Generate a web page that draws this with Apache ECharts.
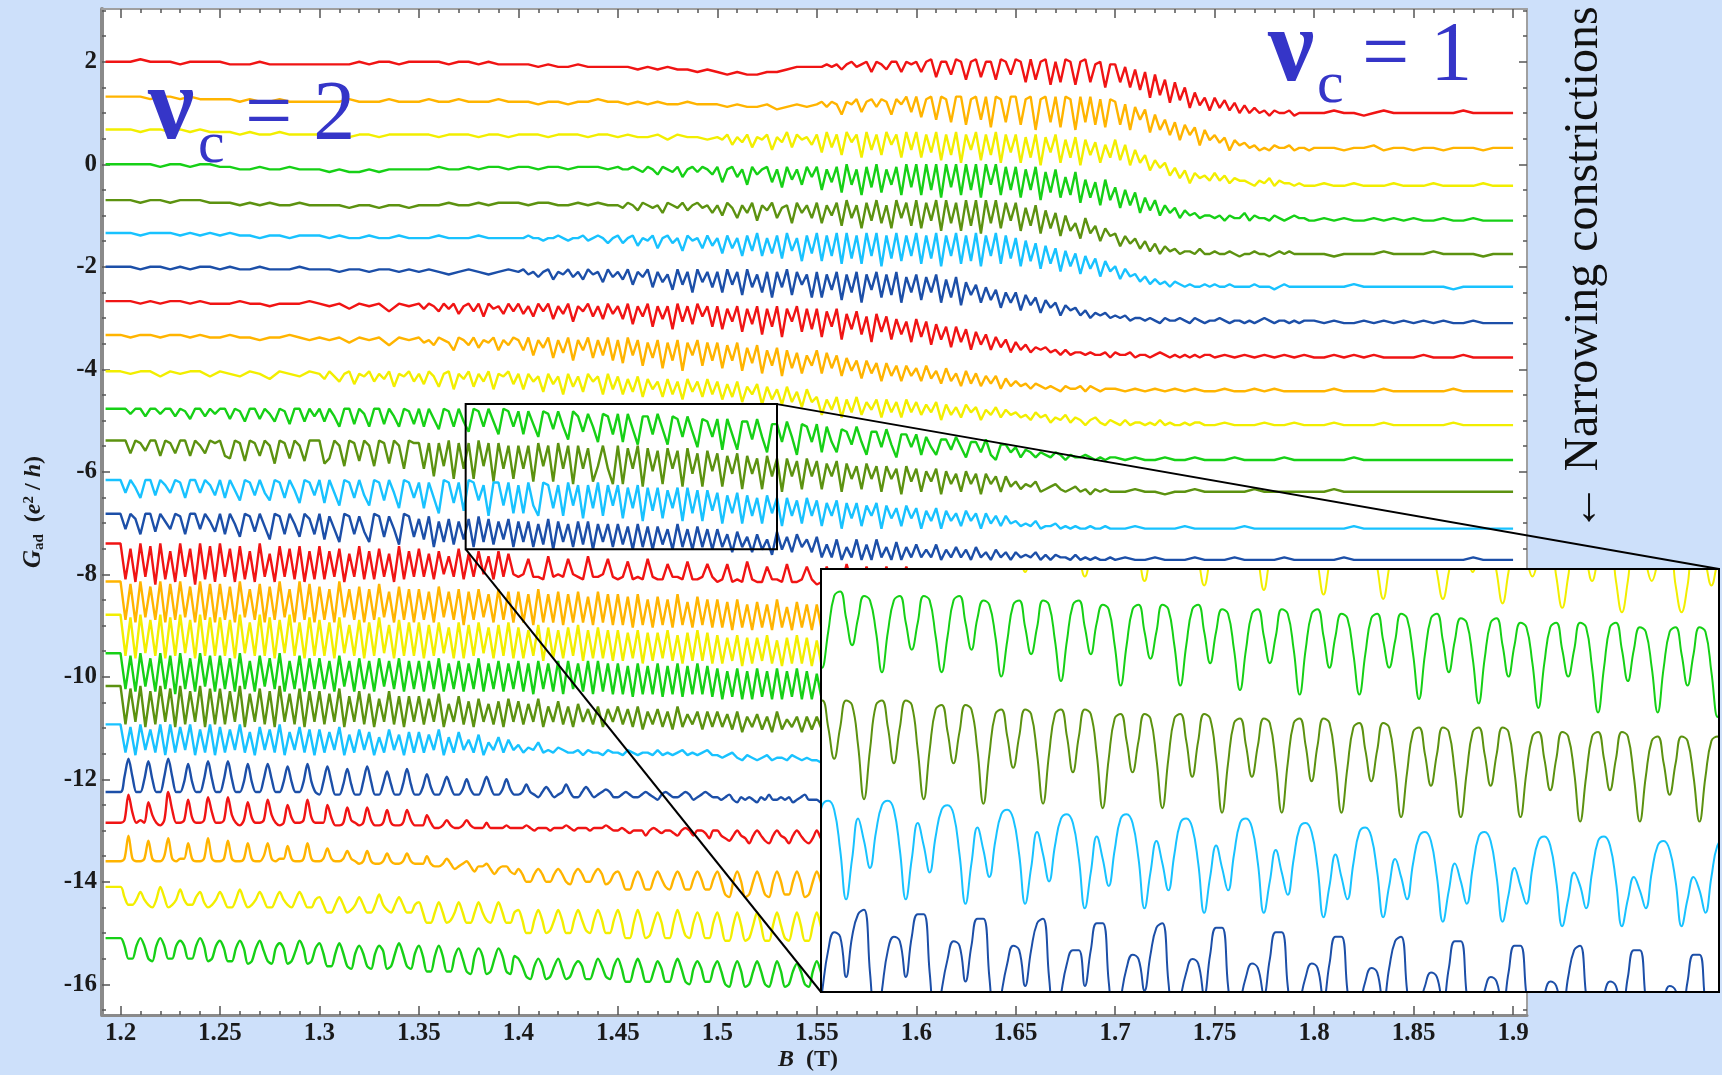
<!DOCTYPE html>
<html>
<head>
<meta charset="utf-8">
<script src="https://cdn.jsdelivr.net/npm/echarts@6/dist/echarts.min.js"></script>
<style>
  html, body { margin: 0; padding: 0; background: #cde0fa; }
  #chart { width: 1722px; height: 1075px; }
</style>
</head>
<body>
<div id="chart"></div>
<script>
// colours of the 25 traces, top to bottom
const palette = { red: '#f01414', orange: '#ffb400', yellow: '#f2ee00', green: '#16d016', olive: '#5c9210', cyan: '#18c2ff', blue: '#1c4fa8' };
const traceColors = [
  'red', 'orange', 'yellow', 'green', 'olive', 'cyan', 'blue',
  'red', 'orange', 'yellow', 'green', 'olive', 'cyan', 'blue',
  'red', 'orange', 'yellow', 'green', 'olive', 'cyan', 'blue',
  'red', 'orange', 'yellow', 'green'
];
// level of each trace at B = 1.2 T (e^2/h, offset already applied)
const traceOffsets = [
  2.00, 1.32, 0.68, 0.00, -0.70, -1.34, -2.00,
  -2.67, -3.33, -4.04, -4.77, -5.39, -6.16, -6.82,
  -7.40, -8.14, -8.79, -9.54, -10.18, -10.93, -11.60,
  -12.30, -13.10, -14.10, -15.10
];
// readings per 0.05 T block starting at 1.2 T; char 'U' = offset, each step 0.05
const traceBlocks = [
  ["UUVUUUTUUU","UTTTUTTTTT","TTTTUTUUTU","UUUTUUTUTT","TTSTSSTSSS","SSRSRSRRQR","QPQPPQQRSS","SSTSTRTUSTUQUTRUUQUT","UQUVOUUPVUNUVOUUNVUP","VUMVNUVLUMVULUVMTUKT","TMSKRJQGPHNEMFKCIDGB","GCFBEADACAB9BAAB9AAA","AABAA9ABAA","AAAAABAAAA"],
  ["UUUTUUTUTT","TTSTSSTSSS","SSSTSSSTSS","STSSTSSSTS","SSRSSRSSTS","SRSRSRRSRR","RQRQQRPQRQ","RSQSRNSRTOSTQTSNTRUO","UMTULUTKUUJTULUIUTKU","UJTUHTUKUIUTHUKUJTIT","SJRHQLPGNHLFKDJFIBHD","FCE9DBCAB9A9BAAB9AA9","AAA9AAB9AA","9AA9AAA9AA"],
  ["UUTUUTUTUT","TTSTSSTSSS","SSSRSSRSSS","SSRSSSRSSR","SSSRSSSRSS","RSRRSQSRRQ","RQSORPSNRQSMRPTNSQRO","SLTNSKTPSJTMSKTOSJTM","TJSLTISKTHSMTISKTHSL","SHRJSGRLSHQJRGQKPHOJ","QIOGMHKEIFHCFBE9DBCA","DAC9BAA98A9B8A998988","8988988898","8898888988"],
  ["UUUUTUUTUU","TTSSTSSTSS","SRSRRSRSSS","SSTSSTSTTS","TTSTTSTTTS","TSSTSRTSQTSRTPSTRTSQ","TNSTPSMTQSTNSLTOSMTP","TKSNTJUMSITLUJSMTIUL","UIUKUHULUIUKUHUMUITK","THSKTGRJSHPIRFOHNEOG","LDKEJBHCGAEBD9CAB9AA","9A8A99B8A998A989A998","8989889898","9889889888"],
  ["UUTUUTUUUT","TTSTSTSSTS","SSSRSSRSSR","SSSTSSTSTT","TSTTSSTSTS","SRTSQTSRSPTSRTQSTRSP","SOTRNSPTMSQTNRSLTPSN","TLSOTKUNSJTMULSJUNTK","UJTMUIULTIUKUHULUJTM","TIRKSHQJPGOILFNHKEJG","HCGDFBEAD9CAB9AA9B99","A99A9899A9989A9A9999","9989999A99","99A9999899"],
  ["UUTUUUTUTU","TUTTSTTSTT","TSTSSTSSTS","SSTSSSTSSS","SSTSSRSSTSRSSTRSTSQS","TQSTPSRTOSTQSNTRSOTP","SMTOSLTNULSMTKUNSJTM","UJTLUIUKTIULUHTKUJTL","UITKUHTLUITJUHTLUITK","SHRJQGPIOFNHMELGKDJF","HCGDEBDACAB9BA9A99A9","A99A9999A99989A99999","9999A99999","9999899999"],
  ["UUTUUTUTUU","TUTTUTTTUT","TTSTTSTTST","STSRSTSRST","STRSQSTPSRTQSPTRSOTQ","SPTNSQTMSORLTNSKTOSM","SKTNSJTMRKSISMTJSNRI","SIRLSHRKSGRLSIRJSGQK","RHQKRGPIQFOJNGMHLEKG","KDJFICHEGBFDEBDACBCA","BAB9AA9A98A99A98A989","9A98998989A989989899","9898898989","8989889888"],
  ["UUTUTUUTUT","TTUTTSTTTU","TSTRTSTQTS","TRTSQTRTPSTQTOTRSPTQ","TPSOTQTNSPTMSQTOSNTP","SNTLSOTKSNSJTMSLTOSK","SJRMSIRLSHRKSGRMSIRJ","RGQKRFPJQHOEPIOFNHME","NGMDLFKCKEJBIDHBGCFA","EBDACBCAB9B9AA9A99A8","A99A89989A9898989899","8989898989","8898989888","8988898888"],
  ["UTUUTUUTUT","TUTTSTTUTS","TSTRTSTQTS","TRSQTSROTSQTPSRTOSQT","SOTMSPTLSNTKSOTLSMTK","SJTMSIRLSHRKSGRMSIRK","RHQKRGPJQFOIPEOHNFMI","OFNHMELGKDKFJCJEICIE","HCIDGBHCFAGBFAEBE9DA","CAB9BA9A98A99A8A9899","9898989898","8988989888","8898888988","8888988888"],
  ["UTUUSUTUUS","UTSUTRUTSU","TRUSQTUPTSUQTRUOTSUQ","TPUSOTUNTRUOTQUNTSUP","TNTQSMTPSLTOSMTQSLTN","SLRMSKRNQKRLQJRMQKRL","QJPKQIOLPHOJNHOIMGNI","KDJFKCJEKDIFJCJEICJE","IDHEIBHDGCHEGBFDGCFD","ECDBECDACBDACB9BCA9B","A9B9AA9A9B9A99A9AA99","9A999A99A9","99A9999A99","9999A99999"],
  ["UUSUURUUSUURUTQUURUS","UUQUTPUUQUSPUTOUUPUR","UPURNUUOUSNUUOURNUTO","UNUQMUTNUPLUTNUPKUTN","TKTOJTSMTNITRLSNHSRK","SHSMGRRKSMGRQJRLFQPJ","QEQKEPPIQJDOOHPJCONH","ODNHDMLGNHCLLFMGBKKF","KCJFCIIEJFBHHDICAGGD","FBEDBDCBDCACBBCBABAB","BABAABAABA","AABAAAABAA","AAAABAAAAA","AAAAAAAAAA"],
  ["UUPUTQUUOUTPUUOUSPUT","UONUTMUTOUSLUTNUSMUU","ULNUSKUTMUSKUTLUSJUT","TJTGTKUFTJTFUKTETJSF","SJSETKSETJSDSJREKSJD","SDRJSCRIQDRJQCRHPCQI","PCOHPBOHNBOGNANGMBNG","MBLGMALFKBLFKAKFJ9KE","JAIEJ9IDHAIDH9HDGAGC","EBDCEABCDBABCAB9BABA","AABAA9AABA","AAAABAAAAA","AABAAAAAAA","AAAAAAAAAA"],
  ["UPURNUUOUSPUTNUUPUSO","UNUQMUTOUPMUTNUQLUTO","ULUPKUTNUOKUTMUPJUTN","TJTNHUTLTIUTMSGTTKTH","SHTKGTSJSGTKSFSJTGSK","SFRJSERIRFQJRERHQEQI","PDOHPDOGNDOHNCNGMDNG","MCLGMBLFLCKGLBKFJCKF","JBIEJBIEHCIEHBHDGCGD","ECDCEBCCDBCBCBBCBBCB","BBCBBBBCBB","BBBCBBBBBB","BBBBCBBBBB","BBBBBBBBBB"],
  ["UOUSMUUNUROUTMUUOURN","UMUQLUTNUPKUTMUQLUSM","UKTOJUTMTNJUTLTOIUTL","SKTHRJSIRKSHTJSIRKSH","RJRHQISGRJQHRIRGQJQH","QIPGQHPGPIOGQHOGPHOG","OHMFNHLFMGKENGLFMHKF","LDIDKCHDKCICKDHCJCHD","IDGDICGDHDGCHDFCGDFC","FDEDFCECEDDCECDCDCCD","CDCCDCCCDC","CCDCCCCDCC","CCCDCCCCCC","CCCCCCDCCC"],
  ["UGSFUHTEUGRFUHSEUGTF","UHSFTGRFUHQFTHSGTFRG","TGRHSFQHTGRGSHQFTGRH","SHQGRIPHSGQHRIPGRHQI","HIOHHGPHIHOIHGPHHIOH","GHNGHGOHGGMHHGNGGHMH","FGMFGFNGFFLGGFMFFGLG","EFLEFEMFEELFFELEEFLF"],
  ["UFTEUGSFUETFUGSEUFTE","TFSEUGRFTESFUGREUFTE","SFREUGRFSERFTGQESFRE","RFQESGQFRDQFRGPERFQE","QEPDREPEQDPEQEODQEPD","PDOCPDNCODNCPDMCODNC","NCMBNCLBMCLBNCKBMCLB","LBKALBJAKBJALBIAKBJA"],
  ["UETDUFSEUDTEUFSDUETE","TESDUFREUETDSFUERDTE","SERDTFQESDRETFQDSERE","RDQERFPDRDQERFPDQERD","PDOEQCPDODPEQCODPDOC","OCNDOBNCNDOCMBNCOCNB","MBLCMALBLCMBKALBMBLA","KAJBKAJ9JAKBIAJ9KAJA"],
  ["UGTFUHSFUGTEUGSFUHTF","TGSFUGRFTHSGUFRGTFSG","SGRFTHRFSGRFSHRGSFRG","RFRGSFQGRFQGSFQGRFQG","RFQERGQFRERGQFRERFQE","QEPDQEPEQDPEQDPEQEPD","OCNDOCNCODNCOCNDOCNC","MCLBMCLCMBLCMCLBMCLC"],
  ["UFTGUESFUGTEUFSGUETF","TFSGUERGTFSEUGRFTESG","SFRGTEQGSFREPGSFQEQG","QFPGRENGQFOEPGNFOEPG","OFNGPEMGOFMENGLFMELG","MFLEMDKFLEKDMEJFKDKE","KEJDKCIEJDICKDHEICID","IDHCICGDHCGCIDGCHCGD"],
  ["UJTIUKSJUIUJTKUISJUI","TJSKUJRITKSJUIRKTJSI","SJRKTIQJSKRIPJSKQIRJ","RJQKSIPJRKOJQINKPJOK","MJLKNJKJLKJJKIKJJIKJ","JIKJIJJIKIJIJKIJIJKI","IHIJHGIHGHIGHHGIHGHG","GFGHGFGFGHFGFGHGFGFG"],
  ["HNUNHHMTMHHNUNHHLSLHHMTMH","HMTMHHLSLHHMSMHHLRLHHLSLH","GLRLGGKQKGGLRLGGKPKGGKQKG","GJOJGGJNJGGIMIGGJNJGGIMIG","GHKHGFHJHFGHKHFFHJHFGHIHF","FGHGFFGHGFEGHGFFGHGEFGHGF","FEFGEDFEFEDFEGEEFEFDEFGEE","EDEFEDEDEEDEFEDEDEEDEFEDE"],
  ["JKUNJKJRMJIKVOJJKSLJJKTNJ","JKTMJIKRLJJKSMJIJQLJJKSLJ","JJQLIIJPKJIJPKIIJOJIIJOKI","IIMJHHIKIHHIKIHHHJHHHHIHH","HHIHGHHHGHHHIHGHHHGHHHIHG","GHGFGGGEGHGFGGFEGHGEGGFDG","GEDCEGEDBEGECBEGEDBEGECBD","GDBAEGDBADGDBAEGDBADGDBAE"],
  ["KLULKKLSLKKMTLKLLRLKKLTLK","KLSLKKLRLKKMRLKLLQLKKLRLK","KLPLKKLOLKJKOKJJKNKJJKNKJ","JJMJIIJLJHIJKIGIIJHFHIIGF","HFCCFHFCCFHFCBFHFCCFHFBCF","GD99DGD99DGDA9DGD99DGD99D","GC76CGC67CGC76CGC77CGC67C","GC66CGC66CGC66CGC66CGC66C"],
  ["UQNNPSPNMPUQMNPTPNNQSOMNP","SPMMPTPMNPSPMMPSPNMPSPMMP","QNKKNQNKLNQNKKNRNLKNQNKKN","OKGGKOKGHKOKGGKOKHGKOKGGK","LHCCHLHCDHLHCCHLHDCHLHCCH","LGAAGLGABGKGAAGLGBAGKGAAG","KF99FKF9AFKF99FKFA9FKF99F","KF99FKF99FKF99FKF99FKF99F"],
  ["URMMRURMLRURMMRTRMMRURLMR","TQLLQTQKLQTPLKQSQKLPTQKLQ","SOJJOSOJIOROJIORPIJOSOJIO","RNHHNRNHHNQMHGNQNGHMQNHGN","MJFEJMJEFJMIEFJLJEEIMJFEJ","MIDDIMIDDHLIDDIMIDCILIDDI","LHCBHLHBCHLHCBGLHBCHKHCBH","LHBBHLHBBHLHBBHLHBBHLHBBH"]
];

// zoomed window: traces 9..13 read at finer spacing, one string per oscillation period
const insetTraces = [9, 10, 11, 12, 13];
const insetTops = [-4.40, -4.80, -5.50, -6.20, -6.90];   // 'Z' = top, each step 0.03
const insetPeriods = [
  ["ZYWYZZWSWZ","ZYWYZZVRVZ","YXVXYYURUY","YXUXYYUPUY","YXUXYYTOTY","YWTWYYTNTY","XVSVXXSMSX","XVSVXXSLSX","XURUXXRKRX","XUQUXXQJQX","WTQTWWPJPW","WTPTWWPIPW","WSOSWWOHOW","WSNSWWNGNW","VRNRVVMGMV","VRMRVVMFMV"],
  ["YXQHPXYSMS","XWPGPWXRLR","XWOGOWXRLS","WVOFNVWQKQ","WVNENVWQKR","VUMDMUVPJP","VUMDMUVPIP","UTLCLTUOIO","UTLBLTUOHO","TSKBKSTNHN","TSKAKSTNGN","SRJ9JRSMFM","RQI8IQRLFL","RQH7HQRLEL","QPH7HPQKDK","QPG6GPQKDK"],
  ["CNWXRKRXWN","BMWXRJRXWM","BMVWQJQWVM","ALUVPIPVUL","ALUVPHPVUL","9KTUOHOUTK","9KTUOGOUTK","8JSTNGNTSJ","8JSTNFNTSJ","8IRSMFMSRI","7HQRLELRQH","7HQRLELRQH","7HPQKDKQPH","6GPQKDKQPG","6GOPJCJPOG","6GOPJCJPOG"],
  ["PJRXYWNCLU","PJRXYWNCLT","OIQWXVMBKS","NHPVWUMBJR","MGOUVTLAIQ","LFNUVTLAIP","KEMTUSK9HO","JEMTUSK9GN","IDLSTRJ8FM","HCKRSQI8FL","HCKQRPH7EK","GBJQRPH7DJ","FBJPQOG6CI","FAIPQOG6CH","EAIOPNG6CH","E9HOPNF5BG"],
  ["XJ5FOSRIRW","XJ5FORQIRW","WJ5FMQPHPV","VI5ELPOGOU","VI5ELOOGOU","UH5DKNMFNT","UH5DJMLENT","TG5CILKEMS","SG5CILKDLR","RF5BHKJCKQ","RF5BGJICKQ","QE5AFIHBJP","PE59EHGAIO","PE59EHGAIO","OD58DGF9HN","NC57CFE8GM"]
];
const insetStart = 1.3706, insetStep = 0.00104;
const zoomB = [1.3735, 1.530];
const zoomG = [-7.51, -4.68];

// axis ticks
const bTicks = [1.2, 1.25, 1.3, 1.35, 1.4, 1.45, 1.5, 1.55, 1.6, 1.65, 1.7, 1.75, 1.8, 1.85, 1.9];
const gTicks = [-16, -14, -12, -10, -8, -6, -4, -2, 0, 2];
const bMinor = [];
for (let i = 0; i <= 71; i++) bMinor.push(+(1.19 + i * 0.01).toFixed(2));
const gMinor = [];
for (let v = -16.5; v <= 3; v += 0.5) gMinor.push(v);

const LEVELS = '0123456789ABCDEFGHIJKLMNOPQRSTUVWXYZ';

function mainTrace(k) {
  const blocks = traceBlocks[k];
  const pts = [];
  blocks.forEach((s, j) => {
    for (let c = 0; c < s.length; c++) {
      const b = 1.2 + 0.05 * j + 0.05 * c / s.length;
      const g = traceOffsets[k] + (LEVELS.indexOf(s[c]) - 30) * 0.05;
      pts.push([+b.toFixed(5), +g.toFixed(3)]);
    }
  });
  pts.unshift([1.1925, pts[0][1]]);
  pts.push([+(1.2 + 0.05 * blocks.length).toFixed(3), pts[pts.length - 1][1]]);
  return pts;
}

function insetTrace(n) {
  const s = insetPeriods[n].join('');
  return Array.from(s, (ch, i) => [
    +(insetStart + i * insetStep).toFixed(5),
    +(insetTops[n] + (LEVELS.indexOf(ch) - 35) * 0.03).toFixed(3)
  ]);
}

const chart = echarts.init(document.getElementById('chart'));

const serif = "'Liberation Serif', 'Times New Roman', serif";
const tickLine = { color: '#555', width: 1.5 };
const labelFont = { fontFamily: serif, fontWeight: 'bold', fontSize: 25, color: '#1a1a1a' };
const BMIN = 1.1907, BMAX = 1.907, GMIN = -16.6, GMAX = 3.03;

const series = traceBlocks.map((_, k) => ({
  type: 'line', xAxisIndex: 0, yAxisIndex: 0,
  data: mainTrace(k), symbol: 'none', silent: true, z: 2,
  smooth: k < 20 ? false : 0.3,
  lineStyle: { color: palette[traceColors[k]], width: 2.4 }
}));
insetTraces.forEach((k, n) => series.push({
  type: 'line', xAxisIndex: 4, yAxisIndex: 4,
  data: insetTrace(n), symbol: 'none', silent: true, z: 10, smooth: 0.45,
  lineStyle: { color: palette[traceColors[k]], width: 2 }
}));

const option = {
  backgroundColor: '#cde0fa',
  animation: false,
  grid: [
    { left: 102, top: 9, width: 1425, height: 1006, show: true, backgroundColor: '#fff', borderWidth: 0 },
    { left: 821, top: 569, width: 898, height: 423 }
  ],
  xAxis: [
    { gridIndex: 0, type: 'value', min: BMIN, max: BMAX, position: 'bottom',
      axisLine: { onZero: false, lineStyle: { color: '#8a8a8a', width: 3 } },
      axisTick: { inside: true, length: 9, customValues: bTicks, lineStyle: tickLine },
      axisLabel: Object.assign({ customValues: bTicks, margin: 6 }, labelFont),
      splitLine: { show: false } },
    { gridIndex: 0, type: 'value', min: BMIN, max: BMAX, position: 'bottom',
      axisLine: { show: false, onZero: false },
      axisTick: { inside: true, length: 4, customValues: bMinor, lineStyle: tickLine },
      axisLabel: { show: false }, splitLine: { show: false } },
    { gridIndex: 0, type: 'value', min: BMIN, max: BMAX, position: 'top',
      axisLine: { onZero: false, lineStyle: { color: '#a0a0a0', width: 2 } },
      axisTick: { inside: true, length: 9, customValues: bTicks, lineStyle: tickLine },
      axisLabel: { show: false }, splitLine: { show: false } },
    { gridIndex: 0, type: 'value', min: BMIN, max: BMAX, position: 'top',
      axisLine: { show: false, onZero: false },
      axisTick: { inside: true, length: 4, customValues: bMinor, lineStyle: tickLine },
      axisLabel: { show: false }, splitLine: { show: false } },
    { gridIndex: 1, type: 'value', min: zoomB[0], max: zoomB[1], show: false }
  ],
  yAxis: [
    { gridIndex: 0, type: 'value', min: GMIN, max: GMAX, position: 'left',
      axisLine: { onZero: false, lineStyle: { color: '#8a8a8a', width: 4 } },
      axisTick: { inside: true, length: 8, customValues: gTicks, lineStyle: tickLine },
      axisLabel: Object.assign({ customValues: gTicks, margin: 5 }, labelFont),
      splitLine: { show: false } },
    { gridIndex: 0, type: 'value', min: GMIN, max: GMAX, position: 'left',
      axisLine: { show: false, onZero: false },
      axisTick: { inside: true, length: 4, customValues: gMinor, lineStyle: tickLine },
      axisLabel: { show: false }, splitLine: { show: false } },
    { gridIndex: 0, type: 'value', min: GMIN, max: GMAX, position: 'right',
      axisLine: { onZero: false, lineStyle: { color: '#a0a0a0', width: 2 } },
      axisTick: { inside: true, length: 8, customValues: gTicks, lineStyle: tickLine },
      axisLabel: { show: false }, splitLine: { show: false } },
    { gridIndex: 0, type: 'value', min: GMIN, max: GMAX, position: 'right',
      axisLine: { show: false, onZero: false },
      axisTick: { inside: true, length: 4, customValues: gMinor, lineStyle: tickLine },
      axisLabel: { show: false }, splitLine: { show: false } },
    { gridIndex: 1, type: 'value', min: zoomG[0], max: zoomG[1], show: false }
  ],
  series: series
};
chart.setOption(option);

// zoom box, inset frame and the two connecting lines
const mainPx = v => chart.convertToPixel({ xAxisIndex: 0, yAxisIndex: 0 }, v);
const insetPx = v => chart.convertToPixel({ xAxisIndex: 4, yAxisIndex: 4 }, v);
const zTL = mainPx([zoomB[0], zoomG[1]]), zBR = mainPx([zoomB[1], zoomG[0]]);
const iTL = insetPx([zoomB[0], zoomG[1]]), iBR = insetPx([zoomB[1], zoomG[0]]);
const black = { stroke: '#000', lineWidth: 2, fill: null };
const blue = '#3535c8';

chart.setOption({
  graphic: [
    { type: 'rect', z: 5, silent: true,
      shape: { x: iTL[0], y: iTL[1], width: iBR[0] - iTL[0], height: iBR[1] - iTL[1] },
      style: { fill: '#fff' } },
    { type: 'rect', z: 20, silent: true,
      shape: { x: iTL[0], y: iTL[1], width: iBR[0] - iTL[0], height: iBR[1] - iTL[1] },
      style: black },
    { type: 'rect', z: 20, silent: true,
      shape: { x: zTL[0], y: zTL[1], width: zBR[0] - zTL[0], height: zBR[1] - zTL[1] },
      style: black },
    { type: 'line', z: 20, silent: true,
      shape: { x1: zBR[0], y1: zTL[1], x2: iBR[0], y2: iTL[1] }, style: black },
    { type: 'line', z: 20, silent: true,
      shape: { x1: zTL[0], y1: zBR[1], x2: iTL[0], y2: iBR[1] }, style: black },

    // nu_c = 2
    { type: 'text', z: 30, x: 148, y: 111, style: { text: 'ν', font: 'bold 104px ' + serif, fill: blue, verticalAlign: 'middle' } },
    { type: 'text', z: 30, x: 198, y: 146, style: { text: 'c', font: '60px ' + serif, fill: blue, verticalAlign: 'middle' } },
    { type: 'text', z: 30, x: 245, y: 117, style: { text: '= 2', font: '84px ' + serif, fill: blue, verticalAlign: 'middle' } },
    // nu_c = 1
    { type: 'text', z: 30, x: 1268, y: 53, style: { text: 'ν', font: 'bold 104px ' + serif, fill: blue, verticalAlign: 'middle' } },
    { type: 'text', z: 30, x: 1317, y: 86, style: { text: 'c', font: '60px ' + serif, fill: blue, verticalAlign: 'middle' } },
    { type: 'text', z: 30, x: 1362, y: 58, style: { text: '= 1', font: '84px ' + serif, fill: blue, verticalAlign: 'middle' } },

    // side note
    { type: 'text', z: 30, x: 1584, y: 269, rotation: Math.PI / 2,
      style: { text: '← Narrowing constrictions', font: '48px ' + serif, fill: '#111', align: 'center', verticalAlign: 'middle' } },

    // axis names
    { type: 'text', z: 30, x: 808, y: 1060,
      style: {
        text: '{i|B}  (T)', align: 'center', verticalAlign: 'middle',
        font: 'bold 24px ' + serif, fill: '#1a1a1a',
        rich: { i: { fontStyle: 'italic', fontWeight: 'bold', fontSize: 24, fontFamily: serif } }
      } },
    { type: 'text', z: 30, x: 34, y: 512, rotation: Math.PI / 2,
      style: {
        text: '{g|G}{sub|ad}  ({i|e}{sup|2} / {i|h})', align: 'center', verticalAlign: 'middle',
        font: 'bold 24px ' + serif, fill: '#1a1a1a',
        rich: {
          g: { fontStyle: 'italic', fontWeight: 'bold', fontSize: 25, fontFamily: serif },
          i: { fontStyle: 'italic', fontWeight: 'bold', fontSize: 24, fontFamily: serif },
          sub: { fontWeight: 'bold', fontSize: 15, fontFamily: serif, verticalAlign: 'bottom', padding: [10, 0, 0, 0] },
          sup: { fontWeight: 'bold', fontSize: 15, fontFamily: serif, verticalAlign: 'top', padding: [0, 0, 10, 0] }
        }
      } }
  ]
});
</script>
</body>
</html>
